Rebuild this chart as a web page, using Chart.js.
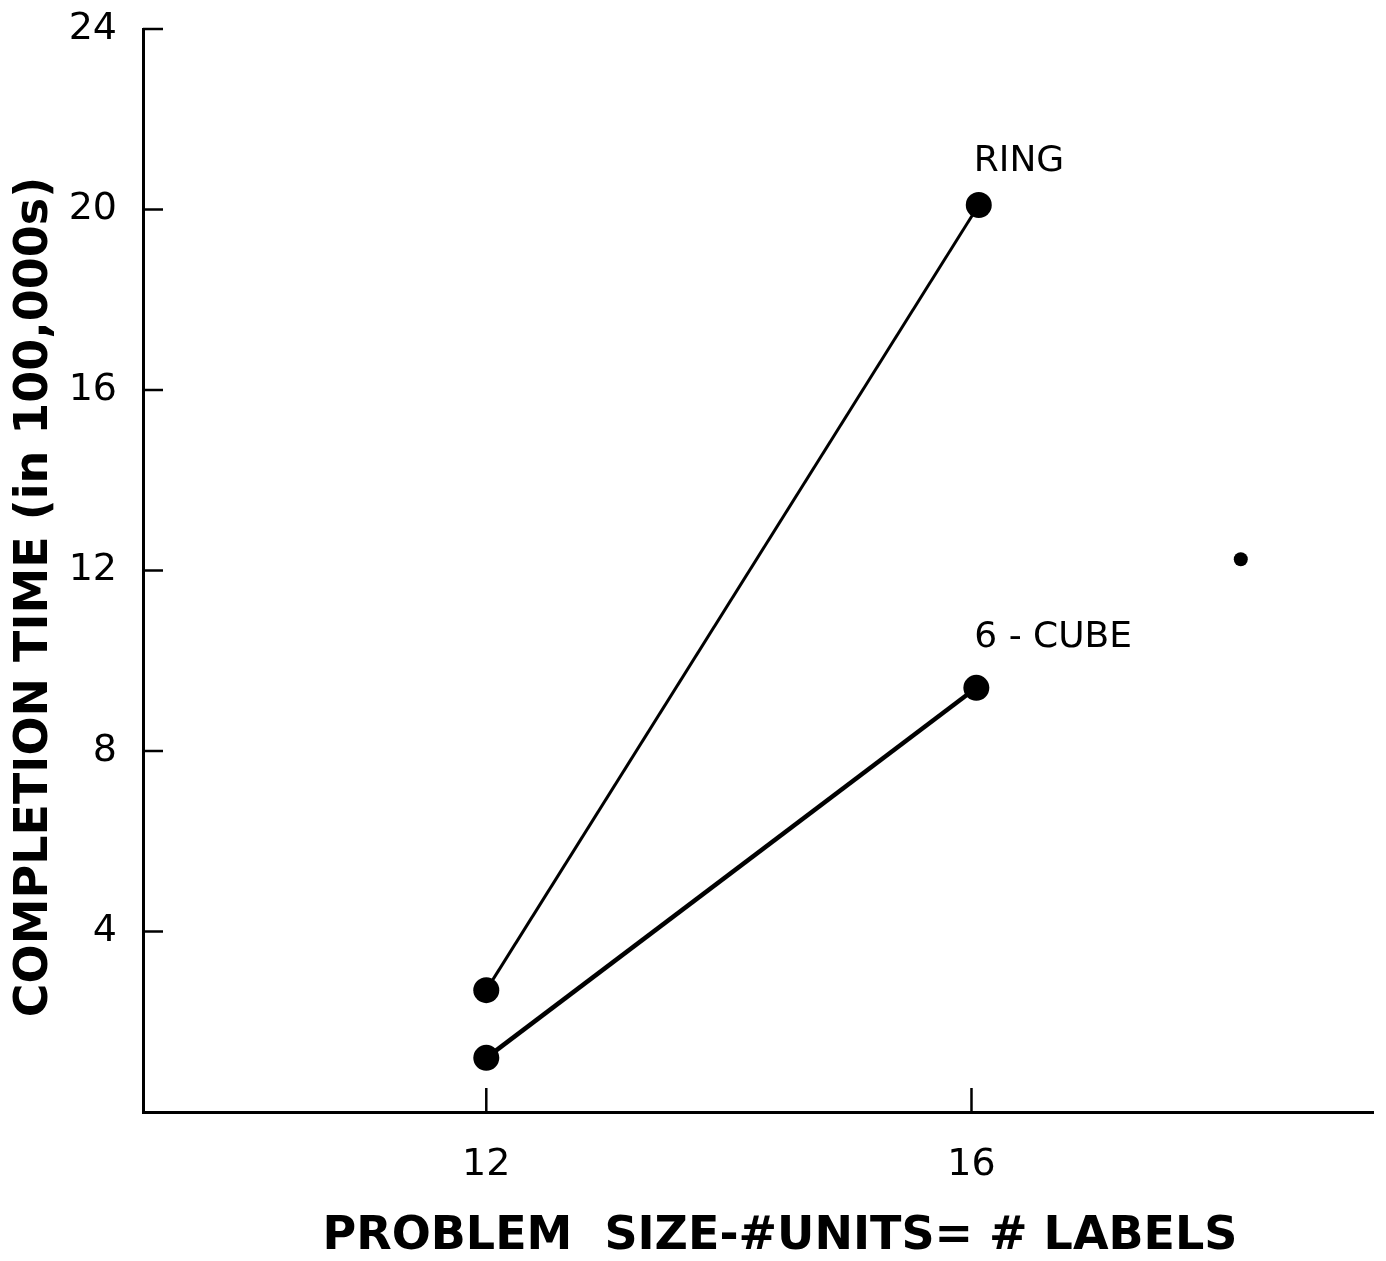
<!DOCTYPE html>
<html>
<head>
<meta charset="utf-8">
<script src="https://cdn.jsdelivr.net/npm/chart.js@4.4.0/dist/chart.umd.min.js"></script>
<style>
  html, body { margin: 0; padding: 0; background: #fff; }
  #wrap { width: 1386px; height: 1261px; }
</style>
</head>
<body>
<div id="wrap"><canvas id="completionChart"></canvas></div>
<script>
// values
const ringSizes = [12, 16.06];
const ringTimes = [2.7, 20.1];
const cubeSizes = [12, 16.04];
const cubeTimes = [1.2, 9.4];
const speckSizes = [18.22]; // stray dot on the original scan
const speckTimes = [12.25];
const xTickValues = [12, 16];
const yTickValues = [4, 8, 12, 16, 20, 24];
const seriesNames = ['RING', '6 - CUBE'];
const xTitle = 'PROBLEM  SIZE-#UNITS= # LABELS';
const yTitle = 'COMPLETION TIME (in 100,000s)';

const toPoints = (xs, ys) => xs.map((x, i) => ({ x: x, y: ys[i] }));

// draws inward tick marks, axis titles and the series labels
const paperPlugin = {
    id: 'paper',
    afterDatasetsDraw(chart) {
        const ctx = chart.ctx;
        const xs = chart.scales.x;
        const ys = chart.scales.y;
        const area = chart.chartArea;
        ctx.save();
        ctx.strokeStyle = '#000';
        ctx.fillStyle = '#000';
        ctx.lineWidth = 2.5;

        // ticks point into the plot
        yTickValues.forEach(v => {
            const py = ys.getPixelForValue(v);
            ctx.beginPath();
            ctx.moveTo(area.left, py);
            ctx.lineTo(area.left + 20, py);
            ctx.stroke();
        });
        xTickValues.forEach(v => {
            const px = xs.getPixelForValue(v);
            ctx.beginPath();
            ctx.moveTo(px, area.bottom);
            ctx.lineTo(px, area.bottom - 24);
            ctx.stroke();
        });

        // series names next to the last point
        ctx.font = '36px "DejaVu Sans"';
        ctx.textBaseline = 'middle';
        ctx.textAlign = 'left';
        const ringEnd = chart.getDatasetMeta(0).data[1];
        const cubeEnd = chart.getDatasetMeta(1).data[1];
        ctx.fillText(seriesNames[0], ringEnd.x - 5, ringEnd.y - 43);
        ctx.fillText(seriesNames[1], cubeEnd.x - 2, cubeEnd.y - 50);

        // axis titles, squeezed to the width used on the original
        ctx.font = 'bold 46px "DejaVu Sans"';
        ctx.textAlign = 'center';
        ctx.fillText(xTitle, 780, 1237, 920);

        ctx.translate(35, 597);
        ctx.rotate(-Math.PI / 2);
        ctx.fillText(yTitle, 0, 0, 855);
        ctx.restore();
    }
};

const tickFont = { family: 'DejaVu Sans', size: 38 };

new Chart(document.getElementById('completionChart'), {
    type: 'scatter',
    data: {
        datasets: [
            {
                label: seriesNames[0],
                data: toPoints(ringSizes, ringTimes),
                showLine: true,
                borderColor: '#000',
                borderWidth: 3,
                pointRadius: 13,
                pointBackgroundColor: '#000',
                pointBorderWidth: 0
            },
            {
                label: seriesNames[1],
                data: toPoints(cubeSizes, cubeTimes),
                showLine: true,
                borderColor: '#000',
                borderWidth: 4.5,
                pointRadius: 13,
                pointBackgroundColor: '#000',
                pointBorderWidth: 0
            },
            {
                label: 'speck',
                data: toPoints(speckSizes, speckTimes),
                showLine: false,
                pointRadius: 7,
                pointBackgroundColor: '#000',
                pointBorderWidth: 0
            }
        ]
    },
    options: {
        responsive: true,
        maintainAspectRatio: false,
        animation: false,
        layout: { padding: { top: 29, right: 8, left: 0, bottom: 0 } },
        plugins: {
            legend: { display: false },
            tooltip: { enabled: false }
        },
        scales: {
            x: {
                type: 'linear',
                min: 9.17,
                max: 19.31,
                afterBuildTicks: scale => { scale.ticks = xTickValues.map(v => ({ value: v })); },
                afterFit: scale => { scale.height = 149; scale.paddingLeft = 0; scale.paddingRight = 0; },
                grid: { display: false, drawTicks: false },
                border: { display: true, color: '#000', width: 3 },
                ticks: { color: '#000', font: tickFont, padding: 30, maxRotation: 0 }
            },
            y: {
                min: 0,
                max: 24,
                afterBuildTicks: scale => { scale.ticks = yTickValues.map(v => ({ value: v })); },
                afterFit: scale => { scale.width = 143; scale.paddingTop = 0; scale.paddingBottom = 0; },
                grid: { display: false, drawTicks: false },
                border: { display: true, color: '#000', width: 3 },
                ticks: { color: '#000', font: tickFont, padding: 26 }
            }
        }
    },
    plugins: [paperPlugin]
});
</script>
</body>
</html>
